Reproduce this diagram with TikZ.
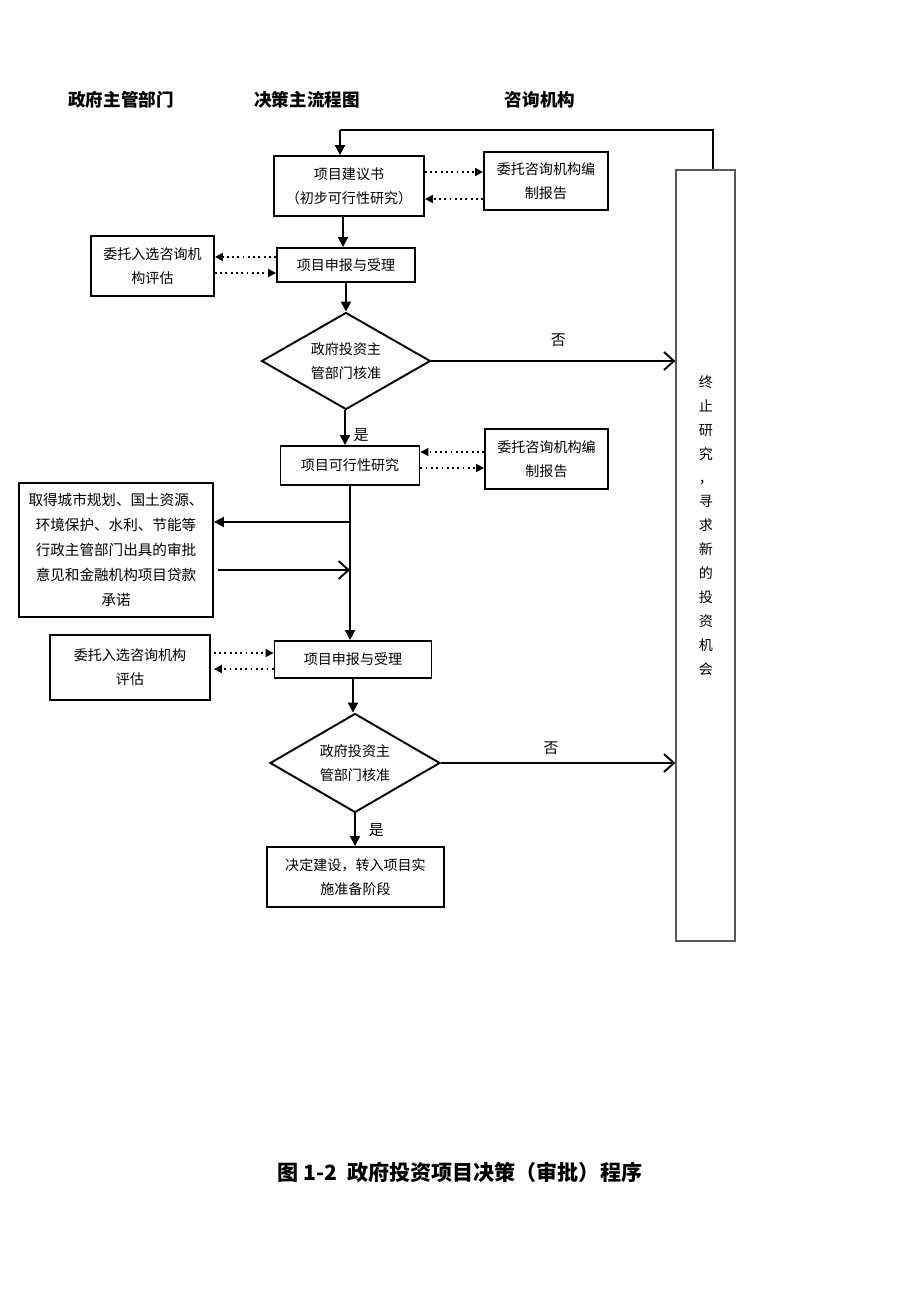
\documentclass[tikz,border=0pt]{standalone}
\usepackage{fontspec}
\setmainfont{Noto Sans CJK SC}
\usepackage{tikz}
\usetikzlibrary{arrows.meta,shapes.geometric,positioning}

\tikzset{
  kuang/.style={draw,line width=1.1pt,align=center,inner sep=0pt,font=\fontsize{8}{13.6}\selectfont},
  panduan/.style={draw,shape=diamond,aspect=1.74,line width=1.1pt,align=center,inner sep=0pt,font=\fontsize{8}{13.6}\selectfont},
  zhu/.style={line width=1.1pt,-{Triangle[length=2mm,width=2mm]}},
  xu/.style={dotted,line width=1pt,-{Triangle[length=1.6mm,width=1.6mm]}},
  fou/.style={line width=1.1pt,-{Straight Barb[length=2mm,width=3.6mm]}},
  biaoti/.style={font=\bfseries\fontsize{10}{12}\selectfont},
  zi/.style={font=\fontsize{8.5}{10}\selectfont}
}

\begin{document}
\begin{tikzpicture}[x=0.02cm,y=-0.02cm]
\useasboundingbox (0,0) rectangle (920,1302);

\node[biaoti] (t1) at (121,100) {政府主管部门};
\node[biaoti] (t2) at (307,100) {决策主流程图};
\node[biaoti] (t3) at (540,100) {咨询机构};

\node[kuang,minimum width=3cm,minimum height=1.2cm] (jys) at (349,186) {项目建议书\\（初步可行性研究）};
\node[kuang,minimum width=2.48cm,minimum height=1.16cm] (zx1) at (546,181) {委托咨询机构编\\制报告};
\node[kuang,minimum width=2.76cm,minimum height=0.68cm] (sb1) at (346,265) {项目申报与受理};
\node[kuang,minimum width=2.46cm,minimum height=1.2cm] (pg1) at (152.5,266) {委托入选咨询机\\构评估};
\node[panduan,minimum width=3.38cm,minimum height=1.94cm] (hz1) at (346,361) {政府投资主\\管部门核准};
\node[kuang,minimum width=2.78cm,minimum height=0.78cm] (kx) at (350,465.5) {项目可行性研究};
\node[kuang,minimum width=2.46cm,minimum height=1.2cm] (zx2) at (546.5,459) {委托咨询机构编\\制报告};
\node[kuang,minimum width=3.88cm,minimum height=2.68cm,font=\fontsize{8.3}{14.2}\selectfont] (sp) at (116,550)
  {取得城市规划、国土资源、\\环境保护、水利、节能等\\行政主管部门出具的审批\\意见和金融机构项目贷款\\承诺};
\node[kuang,minimum width=3.14cm,minimum height=0.74cm] (sb2) at (353,659.5) {项目申报与受理};
\node[kuang,minimum width=3.2cm,minimum height=1.3cm] (pg2) at (130,667.5) {委托入选咨询机构\\评估};
\node[panduan,minimum width=3.4cm,minimum height=1.98cm] (hz2) at (355,763) {政府投资主\\管部门核准};
\node[kuang,minimum width=3.54cm,minimum height=1.2cm] (jd) at (355.5,877) {决定建设，转入项目实\\施准备阶段};

\node[draw=black!65,line width=0.7pt,minimum width=1.18cm,minimum height=15.42cm,inner sep=0pt] (zz) at (705.5,555.5) {};
\node[align=center,font=\fontsize{8}{13.6}\selectfont] (zzwen) at (706,525.5)
  {终\\止\\研\\究\\，\\寻\\求\\新\\的\\投\\资\\机\\会};

\coordinate (hui) at (340,130);
\draw[line width=0.8pt] ([xshift=0.15cm]zz.north) |- (hui);
\draw[zhu] (hui) -- (hui |- jys.north);
\draw[zhu] ([xshift=-0.12cm]jys.south) -- ([xshift=-0.06cm]sb1.north);
\draw[xu] ([yshift=0.28cm]jys.east) -- ([yshift=0.28cm]jys.east -| zx1.west);
\draw[xu] ([yshift=-0.26cm]jys.east -| zx1.west) -- ([yshift=-0.26cm]jys.east);

\draw[xu] ([yshift=0.16cm]sb1.west) -- ([yshift=0.16cm]sb1.west -| pg1.east);
\draw[xu] ([yshift=-0.16cm]sb1.west -| pg1.east) -- ([yshift=-0.16cm]sb1.west);
\draw[zhu] (sb1.south) -- (hz1.north);

\draw[fou] (hz1.east) -- (hz1.east -| zz.west) node[zi,pos=0.52,above=4pt] {否};
\draw[zhu] ([xshift=-0.02cm]hz1.south) -- ([xshift=-0.02cm]hz1.south |- kx.north) node[zi,pos=0.72,right=1pt] {是};

\draw[xu] ([yshift=0.27cm]kx.east -| zx2.west) -- ([yshift=0.27cm]kx.east);
\draw[xu] ([yshift=-0.05cm]kx.east) -- ([yshift=-0.05cm]kx.east -| zx2.west);

\draw[zhu] (kx.south) -- (kx.south |- sb2.north);
\draw[zhu] ([yshift=0.56cm]sp.east -| kx.south) -- ([yshift=0.56cm]sp.east);
\draw[fou] ([yshift=-0.4cm,xshift=0.08cm]sp.east) -- ([yshift=-0.4cm]sp.east -| kx.south);

\draw[xu] ([yshift=0.13cm,xshift=0.06cm]sb2.west -| pg2.east) -- ([yshift=0.13cm]sb2.west);
\draw[xu] ([yshift=-0.19cm]sb2.west) -- ([yshift=-0.19cm,xshift=0.06cm]sb2.west -| pg2.east);
\draw[zhu] (sb2.south) -- (sb2.south |- hz2.north);

\draw[fou] (hz2.east) -- (hz2.east -| zz.west) node[zi,pos=0.47,above=1pt] {否};
\draw[zhu] (hz2.south) -- (hz2.south |- jd.north) node[zi,midway,right=4pt] {是};

\node[font=\bfseries\fontsize{12}{14}\selectfont] (tuming) at (460,1172) {图 1-2\ \ 政府投资项目决策（审批）程序};
\end{tikzpicture}
\end{document}
